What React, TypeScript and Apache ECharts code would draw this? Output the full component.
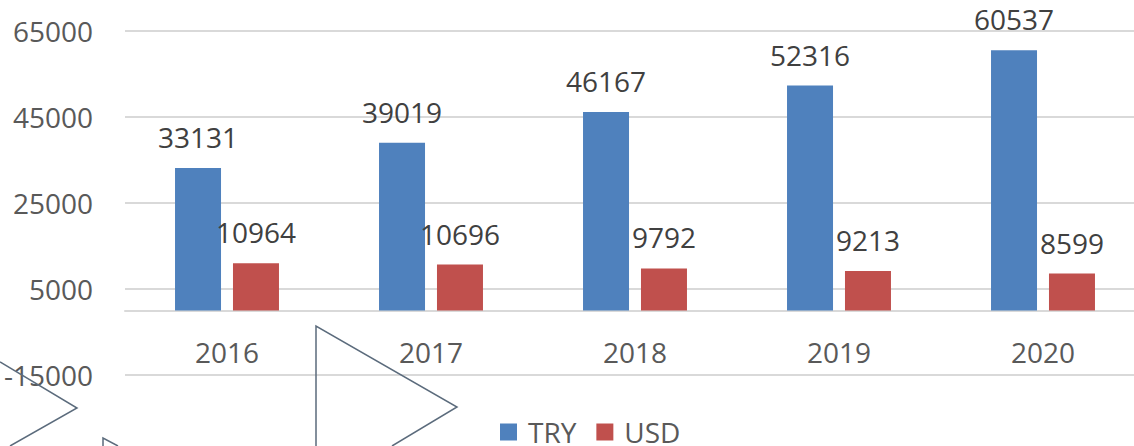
import React, { useEffect, useRef } from "react";
import * as echarts from "echarts";

const categories = ["2016", "2017", "2018", "2019", "2020"];
const tryValues = [33131, 39019, 46167, 52316, 60537];
const usdValues = [10964, 10696, 9792, 9213, 8599];
const seriesNames = ["TRY", "USD"];

const FONT = "'Open Sans', 'Noto Sans', sans-serif";
const LINE_COLOR = "#5B6B7C";

export default function App() {
  const ref = useRef<HTMLDivElement>(null);
  useEffect(() => {
    document.body.style.margin = "0";
    const chart = echarts.init(ref.current!, null, { renderer: "svg" });
    const label = {
      show: true,
      position: "top" as const,
      distance: 17,
      fontFamily: FONT,
      fontSize: 28,
      color: "#404040",
    };
    chart.setOption({
      animation: false,
      backgroundColor: "#ffffff",
      grid: { left: 125, top: 31, width: 1020, height: 344, containLabel: false },
      legend: {
        data: seriesNames,
        left: 500,
        top: 418,
        padding: 0,
        itemWidth: 17,
        itemHeight: 17,
        itemGap: 20,
        icon: "rect",
        textStyle: { fontFamily: FONT, fontSize: 28, color: "#595959", padding: [0, 0, 0, 6] },
      },
      xAxis: {
        type: "category",
        data: categories,
        offset: -64,
        axisLine: { show: true, onZero: false, lineStyle: { color: "#D9D9D9", width: 2 } },
        axisTick: { show: false },
        axisLabel: { margin: 27, fontFamily: FONT, fontSize: 28, color: "#595959" },
      },
      yAxis: {
        type: "value",
        min: -15000,
        max: 65000,
        interval: 20000,
        axisLine: { show: false },
        axisTick: { show: false },
        splitLine: { lineStyle: { color: "#D9D9D9", width: 2 } },
        axisLabel: {
          margin: 32,
          fontFamily: FONT,
          fontSize: 28,
          color: "#595959",
          formatter: (v: number) => String(v),
        },
      },
      series: [
        {
          name: seriesNames[0],
          type: "bar",
          data: tryValues,
          barWidth: 46,
          barGap: "26%",
          itemStyle: { color: "#4F81BD" },
          label,
        },
        {
          name: seriesNames[1],
          type: "bar",
          data: usdValues,
          barWidth: 46,
          itemStyle: { color: "#C0504D" },
          label,
        },
      ],
      graphic: [
        {
          type: "polyline",
          z: 100,
          shape: { points: [[0, 362], [77, 408], [10, 446]] },
          style: { stroke: LINE_COLOR, fill: "none", lineWidth: 1.5 },
        },
        {
          type: "polyline",
          z: 100,
          shape: { points: [[316, 446], [316, 326], [457, 407], [392, 446]] },
          style: { stroke: LINE_COLOR, fill: "none", lineWidth: 1.5 },
        },
        {
          type: "polyline",
          z: 100,
          shape: { points: [[103, 446], [103, 438], [118, 446]] },
          style: { stroke: LINE_COLOR, fill: "none", lineWidth: 1.5 },
        },
      ],
    });
    return () => chart.dispose();
  }, []);
  return (
    <div
      ref={ref}
      style={{ position: "fixed", left: 0, top: 0, width: 1145, height: 446 }}
    />
  );
}
